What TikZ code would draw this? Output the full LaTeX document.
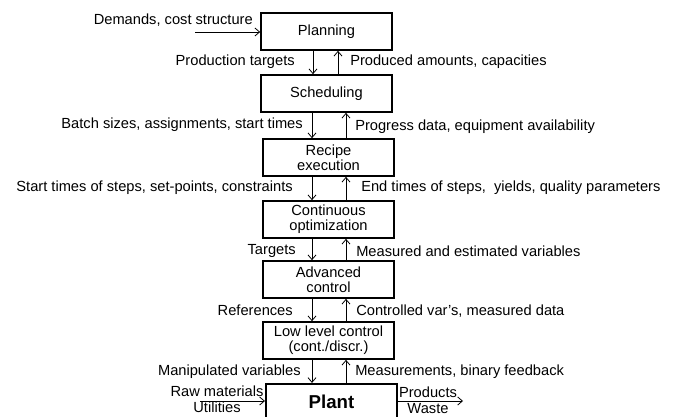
\documentclass[tikz,border=0pt]{standalone}
\usepackage{fontspec}
\setmainfont{Liberation Sans}
\usetikzlibrary{arrows.meta}
\begin{document}
\begin{tikzpicture}[x=0.75pt,y=-0.75pt]
		% les styles
		\tikzstyle{niveau}=[rectangle,draw,line width=1.2pt,minimum width=98.25pt,minimum height=27.75pt,align=center,inner sep=1pt,font=\fontsize{11}{11.5}\selectfont]
		\tikzstyle{usine}=[niveau,line width=1.6pt,minimum height=27pt,font=\fontsize{14}{16}\selectfont\bfseries]
		\tikzstyle{info}=[inner sep=0pt,font=\fontsize{11}{12}\selectfont]
		\tikzstyle{flux}=[-{Straight Barb[length=3.5pt,width=6pt]},line width=0.6pt]
		\useasboundingbox (0,0) rectangle (674,417);
		\clip (0,0) rectangle (674,417);
		% les blocs
		\node[niveau] (plan) at (326.5,31.5) {Planning};
		\node[niveau] (sched) at (326.5,93.5) {Scheduling};
		\node[niveau] (recipe) at (328.5,157.5) {Recipe\\execution};
		\node[niveau] (optim) at (328.5,219.5) {Continuous\\optimization};
		\node[niveau] (adv) at (328.5,279.5) {Advanced\\control};
		\node[niveau] (low) at (328.5,340.5) {Low level control\\(cont./discr.)};
		\node[usine] (plant) at (331.5,402) {Plant};
		% les flèches vers le bas
		\draw[flux] (plan.south -| 313,0) -- (sched.north -| 313,0);
		\draw[flux] (sched.south -| 312,0) -- (recipe.north -| 312,0);
		\draw[flux] (recipe.south -| 312,0) -- (optim.north -| 312,0);
		\draw[flux] (optim.south -| 312,0) -- (adv.north -| 312,0);
		\draw[flux] (adv.south -| 312,0) -- (low.north -| 312,0);
		\draw[flux] (low.south -| 312,0) -- (plant.north -| 312,0);
		% les flèches vers le haut
		\draw[flux] (sched.north -| 338,0) -- (plan.south -| 338,0);
		\draw[flux] (recipe.north -| 346,0) -- (sched.south -| 346,0);
		\draw[flux] (optim.north -| 346,0) -- (recipe.south -| 346,0);
		\draw[flux] (adv.north -| 346,0) -- (optim.south -| 346,0);
		\draw[flux] (low.north -| 346,0) -- (adv.south -| 346,0);
		\draw[flux] (plant.north -| 346,0) -- (low.south -| 346,0);
		% les informations descendantes
		\node[info,anchor=east] (d1) at (295,62) {Production targets};
		\node[info,anchor=east] (d2) at (303,125) {Batch sizes, assignments, start times};
		\node[info,anchor=east] (d3) at (293,188) {Start times of steps, set-points, constraints};
		\node[info,anchor=east] (d4) at (296,251) {Targets};
		\node[info,anchor=east] (d5) at (293,310) {References};
		\node[info,anchor=east] (d6) at (301,372) {Manipulated variables};
		% les informations montantes
		\node[info,anchor=west] (u1) at (350,62) {Produced amounts, capacities};
		\node[info,anchor=west] (u2) at (355,127) {Progress data, equipment availability};
		\node[info,anchor=west] (u3) at (361,188) {End times of steps,\ \ yields, quality parameters};
		\node[info,anchor=west] (u4) at (356,251) {Measured and estimated variables};
		\node[info,anchor=west] (u5) at (356,311) {Controlled var's, measured data};
		\node[info,anchor=west] (u6) at (355,372) {Measurements, binary feedback};
		% entrées et sorties
		\coordinate (dem) at (195,32);
		\node[info,anchor=east] (demlab) at (253,20) {Demands, cost structure};
		\draw[flux] (dem) -- (dem -| plan.west);
		\coordinate (raw) at (200,401);
		\node[info] (rawlab) at (217,391) {Raw materials};
		\node[info] (utillab) at (217,407) {Utilities};
		\draw[flux] (raw) -- (raw -| plant.west);
		\coordinate (prod) at (463,401);
		\node[info] (prodlab) at (428,392) {Products};
		\node[info] (wastelab) at (428,409) {Waste};
		\draw[flux] (prod -| plant.east) -- (prod);
	\end{tikzpicture}
\end{document}
